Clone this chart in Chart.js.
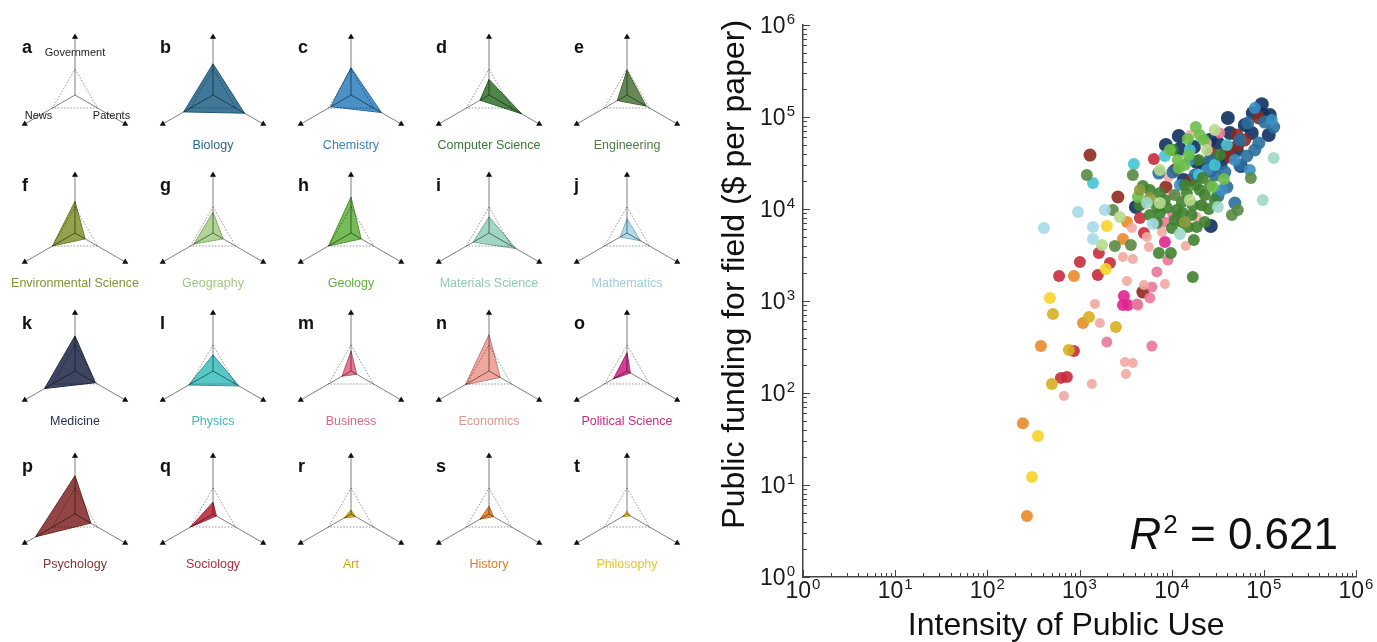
<!DOCTYPE html>
<html><head><meta charset="utf-8">
<script src="https://cdn.jsdelivr.net/npm/chart.js@4.4.1/dist/chart.umd.min.js"></script>
<style>
html,body{margin:0;padding:0;background:#fff;width:1377px;height:642px;overflow:hidden;font-family:"Liberation Sans",Arial,Helvetica,sans-serif;}
canvas{position:absolute;}
.lt{position:absolute;font-weight:bold;font-size:18px;color:#111;line-height:1;}
.nm{position:absolute;font-size:12.5px;width:170px;text-align:center;line-height:1;white-space:nowrap;}
</style></head><body>
<canvas id="sc" width="677" height="642" style="left:700px;top:0"></canvas>
<script>
// ---------------- DATA ----------------
const axisLabels = ['Government', 'Patents', 'News'];
const letters = ['b','c','d','e','f','g','h','i','j','k','l','m','n','o','p','q','r','s','t'];
const fields = ['Biology','Chemistry','Computer Science','Engineering','Environmental Science','Geography','Geology','Materials Science','Mathematics','Medicine','Physics','Business','Economics','Political Science','Psychology','Sociology','Art','History','Philosophy'];
const govValues    = [1.20,1.05,0.60,0.95,1.22,0.80,1.38,0.62,0.55,1.35,0.62,0.77,1.40,0.70,1.47,0.45,0.15,0.30,0.10];
const patentValues = [1.40,1.35,1.45,0.85,0.45,0.45,0.45,1.20,0.60,0.90,1.15,0.25,0.50,0.15,0.70,0.15,0.20,0.20,0.15];
const newsValues   = [1.30,0.90,0.40,0.43,1.00,0.85,1.00,0.70,0.30,1.35,1.08,0.40,1.05,0.60,1.75,1.00,0.30,0.40,0.20];
const fieldColors  = ['#2f6c8f','#3b88c3','#3f7c3a','#587f45','#8b9a3c','#a9d08a','#69b648','#99d3bf','#a8d9e6','#2d3554','#48c2c2','#e56d8a','#ee9f95','#d22f8d','#8a3434','#bf2f42','#d6ad1e','#e8842c','#f2d02c'];
const radarMax = 2.23;

const axisTicks = [1, 10, 100, 1000, 10000, 100000, 1000000];
const tickBase = '10';
const tickExponents = ['0','1','2','3','4','5','6'];
const r2Text = ' = 0.621';

// scatter points [intensity of public use, funding per paper]
const mathPts = [[961,9280],[411,6210],[1400,6370],[1400,4720],[1885,9750],[6250,6870]];
const materialsPts = [[128000,35900],[97500,12500],[31700,10500],[5380,11600],[12300,5350]];
const geographyPts = [[2740,8190],[1750,4060],[24100,43800],[7450,11600],[29400,72300],[15750,12500],[7450,26500]];
const envPts = [[5800,13200],[4520,16100],[13900,7220]];
const geologyPts = [[18270,77900],[14960,57700],[22300,56200],[15340,38600],[11660,34100],[11950,27900],[28000,17300],[36800,21200],[4300,13500],[20200,63700],[9550,43800],[13900,30100]];
const engPts = [[72300,21700],[1200,23400],[3790,23400],[2300,9750],[2420,3960],[3610,4060],[52200,9750],[45000,8600],[26000,18200],[10800,14200]];
const csPts = [[19700,34100],[33300,38600],[21750,21700],[4870,17800],[7450,14900],[14600,14900],[20200,16100],[12900,11900],[16950,11000],[21200,11000],[6910,10500],[8870,10300],[11370,9750],[7450,9050],[13200,9050],[16500,8600],[25300,10000],[14960,6370],[18700,6370],[10050,6210],[6910,7050],[7260,3320],[9800,3320],[17400,4600],[10300,43800],[16950,1820],[5800,16100],[8440,12500],[13900,18240],[10830,7590],[22900,14200],[29400,12500],[5800,8600],[4520,11000],[12900,7220],[22900,7220],[18270,18240]];
const physicsPts = [[8440,37700],[3890,30800],[1400,19200],[39700,49600],[19700,23400],[15750,43800],[29400,30100]];
const chemistryPts = [[79800,125000],[122000,92700],[24100,26500],[15700,34100],[35000,16100],[48500,34100],[70500,26500],[12260,18240]];
const biologyPts = [[67000,86000],[128000,77900],[88300,52200],[65400,37700],[37800,25200],[39700,17300],[31700,13800],[48500,11600],[10300,25200],[7260,24600],[102000,88000],[54900,56200],[26000,34100],[54900,29900],[79800,43800],[29400,23400],[17860,23400]];
const econPts = [[24100,52200],[9320,22300],[10300,14200],[18700,8190],[7830,5620],[5660,3860],[5380,4960],[14200,3960],[3700,6210],[2960,3010],[3790,2860],[3270,1650],[5000,1490],[8440,1530],[1470,930],[1660,577],[3110,217],[3790,212],[3190,161],[1360,125],[677,93],[15750,63700],[20200,11000]];
const businessPts = [[33300,67000],[10300,8600],[8440,7220],[9090,2790],[6910,2070],[6100,1420],[5800,1080],[4200,930],[1980,358],[6100,324],[4300,905]];
const polsciPts = [[8440,4380],[3030,1130],[3350,905],[2960,905]];
const artPts = [[515,722],[1265,670],[2480,522],[767,293],[502,125]];
const historyPts = [[3270,7220],[2960,4720],[870,1870],[1090,577],[381,324],[243,47],[269,4.6]];
const philPts = [[1980,6530],[1930,2230],[478,1080],[354,34],[305,12.2]];
const socPts = [[6410,34900],[5000,5480],[4520,7990],[1620,3320],[1010,2660],[2140,2590],[1580,1920],[600,1870],[628,146],[730,149],[870,286]];
const psychPts = [[88300,97600],[50950,63700],[52200,49600],[40700,47200],[42800,36800],[26600,40600],[16500,20700],[26600,25900],[8650,17300],[2610,13500],[1300,38600],[4870,1250],[62200,56200],[10830,26500]];
const medicinePts = [[95000,138000],[76000,110000],[97500,105000],[74000,67000],[113000,63700],[40700,97600],[42800,67000],[56300,29300],[34100,31600],[11950,62100],[8650,49600],[12250,44900],[17400,47200],[31700,52200],[18700,32400],[13500,20700],[4090,10500],[26600,6530],[22900,30100],[51000,43800],[62200,81800],[116000,105200],[37800,38600],[25960,56200]];

const scatterSeries = [
  ['Mathematics', mathPts, '#a9d9e8', 6],
  ['Materials Science', materialsPts, '#9fd8c6', 6],
  ['Geography', geographyPts, '#b6da8c', 6],
  ['Environmental Science', envPts, '#8c9c3c', 6],
  ['Geology', geologyPts, '#6cc04a', 6],
  ['Engineering', engPts, '#5a8a45', 6],
  ['Computer Science', csPts, '#3f822f', 6],
  ['Physics', physicsPts, '#45c4d6', 6],
  ['Chemistry', chemistryPts, '#3a8fc8', 6],
  ['Biology', biologyPts, '#2a6f9c', 6.5],
  ['Economics', econPts, '#f2a9a2', 5],
  ['Business', businessPts, '#e8789a', 5.5],
  ['Political Science', polsciPts, '#e0248f', 6],
  ['Art', artPts, '#d6b020', 6],
  ['History', historyPts, '#ea8a2a', 6],
  ['Philosophy', philPts, '#f8d42a', 6],
  ['Sociology', socPts, '#c62b3c', 6],
  ['Psychology', psychPts, '#8e2a20', 6.5],
  ['Medicine', medicinePts, '#10305f', 7]
];

// ---------------- LAYOUT ----------------
const FAM = "'Liberation Sans', Arial, Helvetica, sans-serif";
const colX = [75, 213, 351, 489, 627];
const rowY = [95, 233, 371, 514];

function hexA(h, a){const n=parseInt(h.slice(1),16);return `rgba(${n>>16&255},${n>>8&255},${n&255},${a})`;}
function darker(h, f){const n=parseInt(h.slice(1),16);return `rgb(${Math.round((n>>16&255)*f)},${Math.round((n>>8&255)*f)},${Math.round((n&255)*f)})`;}

function addDiv(cls, text, left, top, color){
  const d=document.createElement('div'); d.className=cls; d.textContent=text;
  d.style.left=left+'px'; d.style.top=top+'px'; if(color) d.style.color=color;
  document.body.appendChild(d);
}

const axisLabelPlugin = {
  id:'axisLabelPlugin',
  afterDraw(chart){
    if(!chart.options.plugins.axisLabelPlugin || !chart.options.plugins.axisLabelPlugin.show) return;
    const s=chart.scales.r, ctx=chart.ctx;
    ctx.save(); ctx.font='11px '+FAM; ctx.fillStyle='#222'; ctx.textAlign='center'; ctx.textBaseline='middle';
    axisLabels.forEach((t,i)=>{const p=s.getPointPosition(i, s.getDistanceFromCenterForValue(1.62)); ctx.fillText(t,p.x,p.y);});
    ctx.restore();
  }
};

function makeRadar(idx, cx, cy){
  const cv=document.createElement('canvas'); cv.width=128; cv.height=128;
  cv.style.left=(cx-64)+'px'; cv.style.top=(cy-64)+'px';
  document.body.appendChild(cv);
  const datasets=[];
  if(idx>=0){
    datasets.push({data:[govValues[idx],patentValues[idx],newsValues[idx]], backgroundColor:hexA(fieldColors[idx],0.92),
      borderColor:darker(fieldColors[idx],0.8), borderWidth:1, pointRadius:0, fill:true});
  }
  datasets.push({data:[radarMax,radarMax,radarMax], showLine:false, fill:false, pointStyle:'triangle', pointRadius:3.6,
    pointBackgroundColor:'#111', pointBorderColor:'#111', pointBorderWidth:0, clip:false});
  new Chart(cv,{type:'radar', data:{labels:axisLabels, datasets},
    options:{responsive:false, animation:false, events:[], layout:{padding:6},
      plugins:{legend:{display:false}, tooltip:{enabled:false}, axisLabelPlugin:{show: idx<0}},
      scales:{r:{min:0, max:radarMax, z:1, ticks:{display:false}, pointLabels:{display:false},
        afterBuildTicks:(s)=>{s.ticks=[{value:0},{value:1}];},
        grid:{color:'rgba(0,0,0,0.45)', lineWidth:0.9, z:1}, border:{dash:[1.6,1.6]},
        angleLines:{color:'rgba(0,0,0,0.5)', lineWidth:1}}}},
    plugins:[axisLabelPlugin]});
}

// panel a
makeRadar(-1, colX[0], rowY[0]);
addDiv('lt','a', colX[0]-53, rowY[0]-57);
for(let i=0;i<fields.length;i++){
  const k=i+1, cx=colX[k%5], cy=rowY[Math.floor(k/5)];
  makeRadar(i, cx, cy);
  addDiv('lt', letters[i], cx-53, cy-57);
  addDiv('nm', fields[i], cx-85, cy+44, darker(fieldColors[i],0.95));
}

// ---------------- SCATTER ----------------
const tickPlugin = {
  id:'tickPlugin',
  afterDraw(chart){
    const ctx=chart.ctx, ca=chart.chartArea, sx=chart.scales.x, sy=chart.scales.y;
    ctx.save(); ctx.strokeStyle='#444'; ctx.lineWidth=1;
    for(let d=0; d<6; d++){
      for(let m=1; m<=10; m++){
        if(m===10 && d<5) continue;
        const v=m*Math.pow(10,d), len=(m===1||m===10)?7:4;
        const px=Math.round(sx.getPixelForValue(v))+0.5, py=Math.round(sy.getPixelForValue(v))+0.5;
        ctx.beginPath(); ctx.moveTo(px, ca.bottom); ctx.lineTo(px, ca.bottom-len); ctx.stroke();
        ctx.beginPath(); ctx.moveTo(ca.left, py); ctx.lineTo(ca.left+len, py); ctx.stroke();
      }
    }
    // tick labels: 10 with superscript exponent
    const big='23px '+FAM, small='15px '+FAM;
    ctx.fillStyle='#1a1a1a'; ctx.textBaseline='alphabetic'; ctx.textAlign='left';
    axisTicks.forEach((v,i)=>{
      ctx.font=big; const w1=ctx.measureText(tickBase).width;
      ctx.font=small; const w2=ctx.measureText(tickExponents[i]).width;
      const tot=w1+1+w2;
      const px=sx.getPixelForValue(v);
      let x0=px-tot/2, base=ca.bottom+21;
      ctx.font=big; ctx.fillText(tickBase, x0, base);
      ctx.font=small; ctx.fillText(tickExponents[i], x0+w1+1, base-9);
      const py=sy.getPixelForValue(v);
      x0=ca.left-8-tot; base=py+8;
      ctx.font=big; ctx.fillText(tickBase, x0, base);
      ctx.font=small; ctx.fillText(tickExponents[i], x0+w1+1, base-9);
    });
    // R^2 annotation
    const base=ca.bottom-28, right=ca.right-18;
    ctx.fillStyle='#111';
    ctx.font='44px '+FAM; const wRest=ctx.measureText(r2Text).width;
    ctx.font='26px '+FAM; const wSup=ctx.measureText('2').width;
    ctx.font='italic 44px '+FAM; const wR=ctx.measureText('R').width;
    let x=right-wRest-wSup-wR-2;
    ctx.fillText('R', x, base); x+=wR+2;
    ctx.font='26px '+FAM; ctx.fillText('2', x, base-16); x+=wSup;
    ctx.font='44px '+FAM; ctx.fillText(r2Text, x, base);
    ctx.restore();
  }
};

const logAxis = (title, isX) => ({
  type:'logarithmic', min:1, max:1000000,
  afterBuildTicks:(s)=>{s.ticks=axisTicks.map(v=>({value:v}));},
  afterFit:(s)=>{ if(isX) s.height=65; else s.width=103; },
  grid:{display:false, drawTicks:false},
  border:{display:true, color:'#444', width:1.5},
  ticks:{display:false},
  title:{display:true, text:title, color:'#111', font:{size:32, family:FAM, lineHeight:1}, padding:isX?{top:0,bottom:0}:{top:19,bottom:0}}
});

new Chart(document.getElementById('sc'),{
  type:'scatter',
  data:{datasets:scatterSeries.map(([name,pts,col,r])=>({label:name, data:pts, backgroundColor:hexA(col,0.9), borderWidth:0, pointRadius:r}))},
  options:{responsive:false, animation:false, events:[],
    layout:{padding:{left:0,right:21,top:25,bottom:0}},
    plugins:{legend:{display:false}, tooltip:{enabled:false}},
    scales:{x:logAxis('Intensity of Public Use\u00a0\u00a0\u00a0', true), y:logAxis('\u00a0\u00a0\u00a0\u00a0\u00a0\u00a0Public funding for field ($ per paper)', false)}},
  plugins:[tickPlugin]
});
</script></body></html>
